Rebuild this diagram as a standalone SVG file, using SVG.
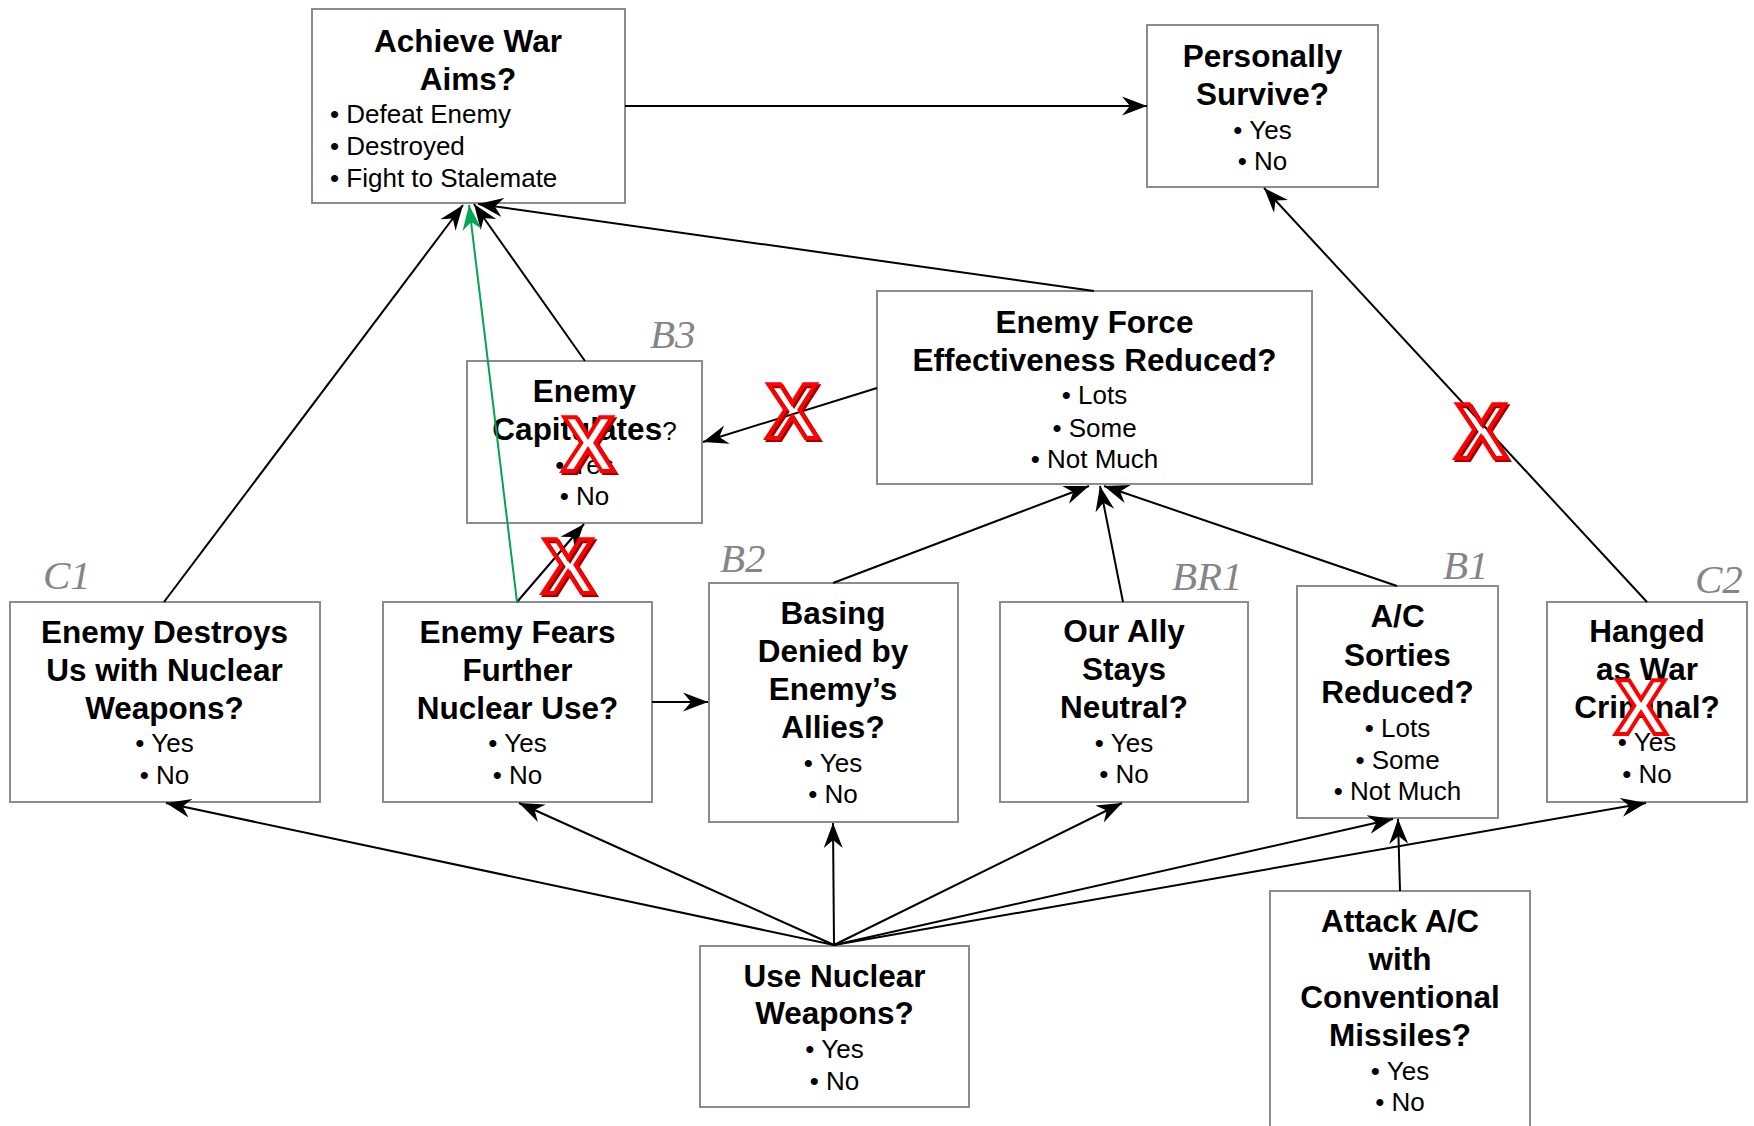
<svg xmlns="http://www.w3.org/2000/svg" width="1754" height="1126" viewBox="0 0 1754 1126">
<style>
.box{fill:#fff;stroke:#8c8c8c;stroke-width:2}
.t{font-family:"Liberation Sans",Arial,sans-serif;font-weight:bold;font-size:31.5px;fill:#000;text-anchor:middle}
.b{font-family:"Liberation Sans",Arial,sans-serif;font-size:26px;fill:#000;text-anchor:middle}
.bl{font-family:"Liberation Sans",Arial,sans-serif;font-size:26px;fill:#000}
.lab{font-family:"Liberation Serif","Times New Roman",serif;font-style:italic;font-size:41px;fill:#858585}
.c{fill:none;stroke:#000;stroke-width:2}
.g{fill:none;stroke:#00a651;stroke-width:2}
.x{font-family:"Liberation Sans",Arial,sans-serif;font-weight:bold;font-size:78px;text-anchor:middle;stroke-width:4;stroke-linejoin:miter}
.xs{fill:none;stroke:#a00000}
.xf{stroke:#ff0000}
</style>
<defs>
<marker id="ah" markerUnits="userSpaceOnUse" viewBox="-25 -10 26 20" refX="0" refY="0" markerWidth="26" markerHeight="20" orient="auto"><path d="M0,0 L-25,-9.5 L-17,0 L-25,9.5 Z" fill="#000"/></marker>
<marker id="ahg" markerUnits="userSpaceOnUse" viewBox="-25 -10 26 20" refX="0" refY="0" markerWidth="26" markerHeight="20" orient="auto"><path d="M0,0 L-25,-9.5 L-17,0 L-25,9.5 Z" fill="#00a651"/></marker>
</defs>
<rect width="1754" height="1126" fill="#fff"/>

<g id="achieve">
<rect class="box" x="312" y="9" width="313" height="194"/>
<text class="t" x="468" y="52">Achieve War</text>
<text class="t" x="468" y="90">Aims?</text>
<text class="bl" x="330" y="123">• Defeat Enemy</text>
<text class="bl" x="330" y="155">• Destroyed</text>
<text class="bl" x="330" y="187">• Fight to Stalemate</text>
</g>

<g id="survive">
<rect class="box" x="1147" y="25" width="231" height="162"/>
<text class="t" x="1262.5" y="67">Personally</text>
<text class="t" x="1262.5" y="105">Survive?</text>
<text class="b" x="1262.5" y="139">• Yes</text>
<text class="b" x="1262.5" y="170">• No</text>
</g>

<g id="capitulates">
<rect class="box" x="467" y="361" width="235" height="162"/>
<text class="t" x="584.5" y="402">Enemy</text>
<text class="t" x="584.5" y="440">Capitulates<tspan font-weight="normal" font-size="26px">?</tspan></text>
<text class="b" x="584.5" y="474">• Yes</text>
<text class="b" x="584.5" y="505">• No</text>
</g>

<g id="force">
<rect class="box" x="877" y="291" width="435" height="193"/>
<text class="t" x="1094.5" y="333">Enemy Force</text>
<text class="t" x="1094.5" y="370.5">Effectiveness Reduced?</text>
<text class="b" x="1094.5" y="404">• Lots</text>
<text class="b" x="1094.5" y="436.5">• Some</text>
<text class="b" x="1094.5" y="468">• Not Much</text>
</g>

<g id="destroys">
<rect class="box" x="10" y="602" width="310" height="200"/>
<text class="t" x="164.5" y="643">Enemy Destroys</text>
<text class="t" x="164.5" y="681">Us with Nuclear</text>
<text class="t" x="164.5" y="719">Weapons?</text>
<text class="b" x="164.5" y="752">• Yes</text>
<text class="b" x="164.5" y="784">• No</text>
</g>

<g id="fears">
<rect class="box" x="383" y="602" width="269" height="200"/>
<text class="t" x="517.5" y="643">Enemy Fears</text>
<text class="t" x="517.5" y="681">Further</text>
<text class="t" x="517.5" y="719">Nuclear Use?</text>
<text class="b" x="517.5" y="752">• Yes</text>
<text class="b" x="517.5" y="784">• No</text>
</g>

<g id="basing">
<rect class="box" x="709" y="583" width="249" height="239"/>
<text class="t" x="833" y="623.5">Basing</text>
<text class="t" x="833" y="661.5">Denied by</text>
<text class="t" x="833" y="700">Enemy’s</text>
<text class="t" x="833" y="738">Allies?</text>
<text class="b" x="833" y="771.5">• Yes</text>
<text class="b" x="833" y="803">• No</text>
</g>

<g id="ally">
<rect class="box" x="1000" y="602" width="248" height="200"/>
<text class="t" x="1124" y="642">Our Ally</text>
<text class="t" x="1124" y="680">Stays</text>
<text class="t" x="1124" y="718">Neutral?</text>
<text class="b" x="1124" y="751.5">• Yes</text>
<text class="b" x="1124" y="783">• No</text>
</g>

<g id="sorties">
<rect class="box" x="1297" y="586" width="201" height="232"/>
<text class="t" x="1397.5" y="627">A/C</text>
<text class="t" x="1397.5" y="666">Sorties</text>
<text class="t" x="1397.5" y="703">Reduced?</text>
<text class="b" x="1397.5" y="736.5">• Lots</text>
<text class="b" x="1397.5" y="768.5">• Some</text>
<text class="b" x="1397.5" y="800">• Not Much</text>
</g>

<g id="hanged">
<rect class="box" x="1547" y="602" width="200" height="200"/>
<text class="t" x="1647" y="642">Hanged</text>
<text class="t" x="1647" y="680">as War</text>
<text class="t" x="1647" y="718">Criminal?</text>
<text class="b" x="1647" y="751">• Yes</text>
<text class="b" x="1647" y="783">• No</text>
</g>

<g id="usenuclear">
<rect class="box" x="700" y="946" width="269" height="161"/>
<text class="t" x="834.5" y="987">Use Nuclear</text>
<text class="t" x="834.5" y="1023.5">Weapons?</text>
<text class="b" x="834.5" y="1058">• Yes</text>
<text class="b" x="834.5" y="1090">• No</text>
</g>

<g id="attack">
<rect class="box" x="1270" y="891" width="260" height="260"/>
<text class="t" x="1400" y="932">Attack A/C</text>
<text class="t" x="1400" y="970">with</text>
<text class="t" x="1400" y="1008">Conventional</text>
<text class="t" x="1400" y="1046">Missiles?</text>
<text class="b" x="1400" y="1079.5">• Yes</text>
<text class="b" x="1400" y="1111">• No</text>
</g>

<g id="connectors">
<line class="c" x1="625" y1="106" x2="1147" y2="106" marker-end="url(#ah)"/>
<line class="c" x1="1094" y1="291" x2="478" y2="204" marker-end="url(#ah)"/>
<line class="c" x1="585" y1="361" x2="474" y2="204" marker-end="url(#ah)"/>
<line class="c" x1="164" y1="602" x2="463" y2="205" marker-end="url(#ah)"/>
<line class="c" x1="517" y1="602" x2="584" y2="524" marker-end="url(#ah)"/>
<line class="c" x1="877" y1="388" x2="703" y2="442" marker-end="url(#ah)"/>
<line class="c" x1="833" y1="583" x2="1089" y2="486" marker-end="url(#ah)"/>
<line class="c" x1="1123" y1="602" x2="1100" y2="486" marker-end="url(#ah)"/>
<line class="c" x1="1397" y1="586" x2="1104" y2="486" marker-end="url(#ah)"/>
<line class="c" x1="1647" y1="602" x2="1264" y2="188" marker-end="url(#ah)"/>
<line class="c" x1="652" y1="702" x2="708" y2="702" marker-end="url(#ah)"/>
<line class="c" x1="834" y1="945" x2="166" y2="803" marker-end="url(#ah)"/>
<line class="c" x1="834" y1="945" x2="519" y2="803" marker-end="url(#ah)"/>
<line class="c" x1="834" y1="945" x2="833" y2="823" marker-end="url(#ah)"/>
<line class="c" x1="834" y1="945" x2="1122" y2="803" marker-end="url(#ah)"/>
<line class="c" x1="834" y1="945" x2="1393" y2="819" marker-end="url(#ah)"/>
<line class="c" x1="834" y1="945" x2="1646" y2="803" marker-end="url(#ah)"/>
<line class="c" x1="1400" y1="891" x2="1398" y2="819" marker-end="url(#ah)"/>
<line class="g" x1="517" y1="602" x2="469" y2="205" marker-end="url(#ahg)"/>
</g>

<g id="labels">
<text class="lab" x="43" y="589">C1</text>
<text class="lab" x="650" y="348">B3</text>
<text class="lab" x="720" y="572">B2</text>
<text class="lab" x="1172" y="590">BR1</text>
<text class="lab" x="1443" y="579">B1</text>
<text class="lab" x="1695" y="593">C2</text>
</g>

<g id="xmarks">
<text class="x xs" x="794" y="440">X</text>
<text class="x xf" x="792" y="438" fill="none">X</text>
<text class="x xs" x="590" y="473">X</text>
<text class="x xf" x="588" y="471" fill="#fff">X</text>
<text class="x xs" x="570" y="595">X</text>
<text class="x xf" x="568" y="593" fill="none">X</text>
<text class="x xs" x="1483" y="460">X</text>
<text class="x xf" x="1481" y="458" fill="none">X</text>
<text class="x xf" x="1641" y="734" fill="#fff">X</text>
</g>
</svg>
